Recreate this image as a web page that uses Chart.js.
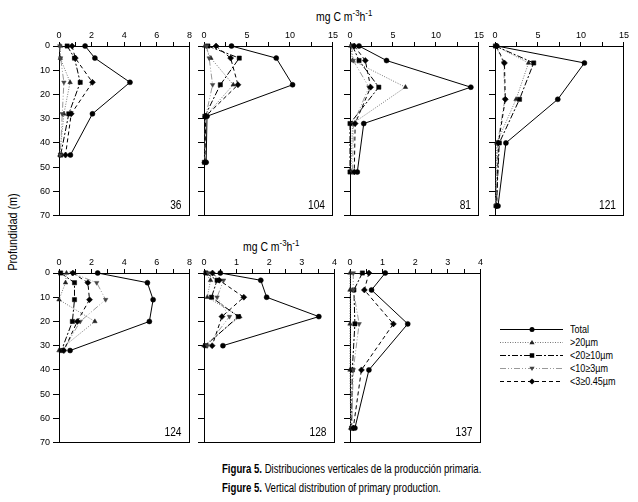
<!DOCTYPE html>
<html lang="es">
<head>
<meta charset="UTF-8">
<title>Figura 5 - Produccion primaria</title>
<script src="https://cdn.jsdelivr.net/npm/chart.js"></script>
<style>
  body { margin:0; background:#fff; width:638px; height:502px; position:relative; overflow:hidden;
         font-family:"Liberation Sans Narrow","Arial Narrow","Liberation Sans",sans-serif; color:#000; }
  canvas.panel { position:absolute; }
  .txt { position:absolute; white-space:nowrap; font-size:12px; line-height:14px; }
  .txt sup { font-size:9px; vertical-align:5px; line-height:0; }
  .narrow { transform:scaleX(0.8); transform-origin:0 50%; }
  .unit { transform:scaleX(0.87); transform-origin:0 50%; }
  #ylab { left:13px; top:232px; transform:translate(-50%,-50%) rotate(-90deg) scaleX(0.9); }
  #legend { position:absolute; left:499px; top:322px; }
  .leg { position:absolute; left:570px; font-size:11px; line-height:12px; white-space:nowrap;
         transform:scaleX(0.82); transform-origin:0 50%; }
</style>
</head>
<body>

<div class="txt unit" style="left:316px; top:10px;">mg C m<sup>-3</sup>h<sup>-1</sup></div>
<div class="txt unit" style="left:243px; top:240px;">mg C m<sup>-3</sup>h<sup>-1</sup></div>
<div class="txt" id="ylab">Profundidad (m)</div>

<svg id="legend" width="66" height="66"></svg>
<div id="legendText"></div>

<div class="txt narrow" style="left:222px; top:462px;"><b>Figura 5.</b> Distribuciones verticales de la producción primaria.</div>
<div class="txt narrow" style="left:222px; top:481px;"><b>Figure 5.</b> Vertical distribution of primary production.</div>

<script>
// station number of each panel
const stations = ["36", "104", "81", "121", "124", "128", "137"];

// sampling depths (m) per station
const depth  = [[0, 5, 15, 28, 45], [0, 5, 16, 29, 48], [0, 6, 17, 32, 52], [0, 7, 22, 40, 66],
                [0, 4, 11, 20, 32], [0, 3, 10, 18, 30], [0, 7, 21, 40, 64]];

// primary production, mg C m-3 h-1
const total  = [[1.6, 2.2, 4.35, 2.05, 0.7], [3.2, 8.4, 10.3, 0.35, 0.25], [1.05, 4.25, 14.05, 1.6, 0.85],
                [0.2, 10.4, 7.3, 1.27, 0.35], [2.37, 5.42, 5.77, 5.54, 0.68], [0.5, 1.74, 1.92, 3.52, 0.58],
                [1.08, 0.66, 1.77, 0.58, 0.15]];
const gt20   = [[0.1, 0.08, 0.68, 0.3, 0.05], [0.1, 0.8, 3.4, 0.15, 0.1], [0.1, 0.3, 6.45, 0.3, 0.1],
                [0.1, 3.9, 2.45, 0.2, 0.1], [0.46, 0.4, 0, 2.2, 0], [0.05, 0.2, 0.1, 1.1, 0],
                [0, 0, 0, 0, 0.02]];
const f20_10 = [[0.5, 0.95, 1.3, 0.6, 0.1], [0.45, 4.1, 1.9, 0.1, 0.05], [0.3, 1.05, 3.35, 0, 0],
                [0.05, 4.5, 2.85, 0.5, 0.15], [0.1, 0.95, 0.95, 0.82, 0.15], [0.06, 0.4, 0.23, 1.05, 0.05],
                [0.38, 0.12, 0.15, 0.07, 0.05]];
const f10_3  = [[0.05, 0.1, 0.3, 0.2, 0.08], [0.3, 0.6, 1.0, 0.2, 0.1], [0.2, 0.38, 2.2, 0.4, 0.3],
                [0.1, 1.0, 1.15, 0.3, 0.1], [0.8, 2.31, 2.86, 1.3, 0.25], [0.13, 0.6, 0.4, 0.78, 0.1],
                [0.1, 0.1, 0.28, 0.1, 0.05]];
const f3_045 = [[0.8, 1.0, 2.05, 0.75, 0.4], [1.4, 3.1, 3.95, 0.2, 0.1], [0.5, 1.78, 2.4, 0.6, 0.5],
                [0.15, 1.1, 1.2, 0.4, 0.2], [0.85, 1.77, 1.87, 1.12, 0.3], [0.26, 0.47, 1.22, 0.55, 0.25],
                [0.58, 0.44, 1.33, 0.35, 0.1]];

// axis ticks
const xMax       = [8, 15, 15, 15, 8, 4, 4];
const xMinorStep = [1, 2.5, 2.5, 2.5, 1, 0.5, 0.5];
const xLabelStep = [2, 5, 5, 5, 2, 1, 1];
const depthMax = 70;
const depthStep = 10;

const seriesNames = ["Total", ">20µm", "<20≥10µm", "<10≥3µm", "<3≥0.45µm"];
const seriesData = [total, gt20, f20_10, f10_3, f3_045];

// line / marker styles per series
const styles = [
  { color: "#000", dash: [],                 marker: "circle",   mColor: "#000", r: 2.5, rot: 0 },
  { color: "#777", dash: [1, 1.5],           marker: "triangle", mColor: "#222", r: 2.6, rot: 0 },
  { color: "#000", dash: [6, 2, 2, 2],       marker: "rect",     mColor: "#000", r: 3,   rot: 0 },
  { color: "#999", dash: [6, 2, 1, 2, 1, 2], marker: "triangle", mColor: "#444", r: 2.6, rot: 180 },
  { color: "#000", dash: [4, 3],             marker: "rectRot",  mColor: "#000", r: 3,   rot: 0 }
];

// panel layout (plot-area corner)
const panelLeft = [59, 204, 350, 495, 59, 204, 350];
const panelTop  = [46, 46, 46, 46, 273, 273, 273];
const PW = 132, PH = 175, AX = 25, PAD = 3;

const font = '"Liberation Sans Narrow","Arial Narrow","Liberation Sans",sans-serif';

// frame round plot area + station number
const framePlugin = {
  id: "frame",
  beforeDatasetsDraw(chart, args, opts) {
    const a = chart.chartArea, ctx = chart.ctx;
    ctx.save();
    ctx.strokeStyle = "#000";
    ctx.lineWidth = 1;
    ctx.strokeRect(Math.round(a.left) + 0.5, Math.round(a.top) + 0.5,
                   Math.round(a.right - a.left) - 1, Math.round(a.bottom - a.top) - 1);
    ctx.restore();
  },
  afterDraw(chart, args, opts) {
    const a = chart.chartArea, ctx = chart.ctx;
    ctx.save();
    ctx.fillStyle = "#000";
    ctx.font = "12px " + font;
    ctx.textAlign = "right";
    ctx.textBaseline = "middle";
    const x = a.right - 8, y = a.bottom - 10;
    ctx.translate(x, y);
    ctx.scale(0.85, 1);
    ctx.fillText(opts.label, 0, 0);
    ctx.restore();
  }
};

stations.forEach((st, i) => {
  const cv = document.createElement("canvas");
  cv.className = "panel";
  cv.width = AX + PW + PAD;
  cv.height = AX + PH + PAD;
  cv.style.left = (panelLeft[i] - AX) + "px";
  cv.style.top = (panelTop[i] - AX) + "px";
  document.body.appendChild(cv);

  const showDepthLabels = (i === 0 || i === 4);
  const step = xLabelStep[i];

  new Chart(cv, {
    type: "scatter",
    data: {
      datasets: seriesData.map((vals, k) => ({
        label: seriesNames[k],
        data: vals[i].map((v, j) => ({ x: v, y: depth[i][j] })),
        showLine: true,
        borderColor: styles[k].color,
        borderWidth: 1,
        borderDash: styles[k].dash,
        pointStyle: styles[k].marker,
        pointRadius: styles[k].r,
        pointRotation: styles[k].rot,
        pointBackgroundColor: styles[k].mColor,
        pointBorderColor: styles[k].mColor,
        pointBorderWidth: 0.5,
        clip: false,
        order: 5 - k
      }))
    },
    options: {
      responsive: false,
      animation: false,
      layout: { padding: { right: PAD, bottom: PAD, left: 0, top: 0 } },
      plugins: {
        legend: { display: false },
        tooltip: { enabled: false },
        frame: { label: st }
      },
      scales: {
        x: {
          type: "linear",
          position: "top",
          min: 0,
          max: xMax[i],
          afterFit: s => { s.height = AX; },
          border: { display: false },
          grid: { display: true, drawOnChartArea: false, drawTicks: true, tickLength: 4, color: "#000", tickColor: "#000" },
          ticks: {
            stepSize: xMinorStep[i],
            autoSkip: false,
            maxRotation: 0,
            padding: 1,
            color: "#000",
            font: { family: font, size: 9 },
            callback: v => (Math.abs(v / step - Math.round(v / step)) < 1e-9 ? String(v) : "")
          }
        },
        y: {
          type: "linear",
          position: "left",
          reverse: true,
          min: 0,
          max: depthMax,
          afterFit: s => { s.width = AX; },
          border: { display: false },
          grid: { display: true, drawOnChartArea: false, drawTicks: true, tickLength: 6, color: "#000", tickColor: "#000" },
          ticks: {
            stepSize: depthStep,
            autoSkip: false,
            padding: 3,
            color: "#000",
            font: { family: font, size: 9 },
            callback: v => (showDepthLabels ? String(v) : "")
          }
        }
      }
    },
    plugins: [framePlugin]
  });
});

// legend: line sample with marker, then label
const svg = document.getElementById("legend");
const legText = document.getElementById("legendText");
const NS = "http://www.w3.org/2000/svg";
seriesNames.forEach((name, k) => {
  const y = 7 + k * 13;
  const st = styles[k];
  const ln = document.createElementNS(NS, "line");
  ln.setAttribute("x1", 1); ln.setAttribute("x2", 64);
  ln.setAttribute("y1", y + 0.5); ln.setAttribute("y2", y + 0.5);
  ln.setAttribute("stroke", st.color);
  ln.setAttribute("stroke-width", 1);
  if (st.dash.length) ln.setAttribute("stroke-dasharray", st.dash.join(" "));
  svg.appendChild(ln);

  const cx = 33, cy = y + 0.5, r = st.r;
  let m;
  if (st.marker === "circle") {
    m = document.createElementNS(NS, "circle");
    m.setAttribute("cx", cx); m.setAttribute("cy", cy); m.setAttribute("r", r);
  } else if (st.marker === "rect") {
    m = document.createElementNS(NS, "rect");
    m.setAttribute("x", cx - r * 0.75); m.setAttribute("y", cy - r * 0.75);
    m.setAttribute("width", r * 1.5); m.setAttribute("height", r * 1.5);
  } else if (st.marker === "rectRot") {
    m = document.createElementNS(NS, "polygon");
    m.setAttribute("points", `${cx},${cy - r} ${cx + r},${cy} ${cx},${cy + r} ${cx - r},${cy}`);
  } else {
    m = document.createElementNS(NS, "polygon");
    const s = st.rot ? 1 : -1;
    m.setAttribute("points", `${cx},${cy + s * r} ${cx + r},${cy - s * r * 0.7} ${cx - r},${cy - s * r * 0.7}`);
  }
  m.setAttribute("fill", st.mColor);
  svg.appendChild(m);

  const d = document.createElement("div");
  d.className = "leg";
  d.style.top = (322 + y - 6) + "px";
  d.textContent = name;
  legText.appendChild(d);
});
</script>
</body>
</html>
